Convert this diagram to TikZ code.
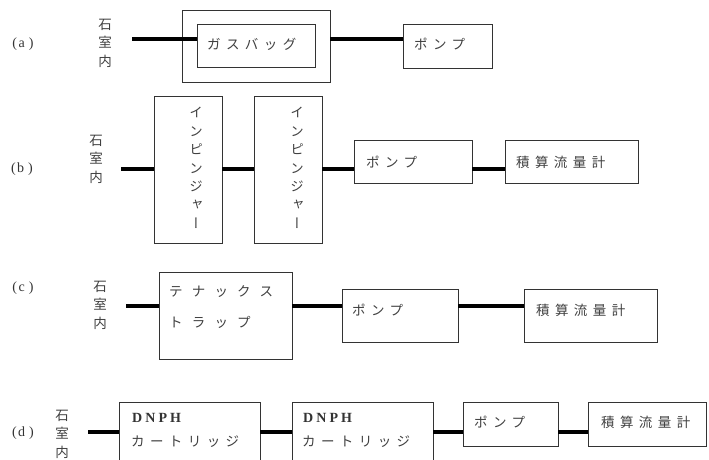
\documentclass[tikz,border=0pt]{standalone}
\usepackage{fontspec}
\setmainfont{Liberation Serif}
\newfontfamily\jp[LetterSpace=40]{Noto Sans CJK JP}
\newfontfamily\jpwide[LetterSpace=68]{Noto Sans CJK JP}
\newfontfamily\jpv[RawFeature=+vert]{Noto Sans CJK JP}
\newfontfamily\dnph[LetterSpace=22]{Liberation Serif}
\begin{document}
\begin{tikzpicture}[x=1pt,y=-1pt,
  box/.style={draw=black!80,line width=0.9pt,inner sep=0pt,fill=none},
  conn/.style={line width=3.6pt,black},
  jtext/.style={text=black!75,inner sep=0pt,anchor=west,font=\jp\fontsize{13.5}{15}\selectfont},
  jwide/.style={text=black!75,inner sep=0pt,anchor=west,font=\jpwide\fontsize{13.5}{15}\selectfont},
  dtext/.style={text=black!80,inner sep=0pt,anchor=west,font=\dnph\bfseries\fontsize{14}{16}\selectfont},
  vtext/.style={text=black!75,inner sep=0pt,align=center,font=\jpv\fontsize{13.5}{18.4}\selectfont},
  rowlabel/.style={text=black!80,inner sep=0pt,font=\fontsize{14}{16}\selectfont}]
\clip (0,0) rectangle (709,460);
\fill[white] (0,0) rectangle (709,460);

% ---------- (a)
\node[rowlabel] (labA) at (23,44) {(\hspace{1.5pt}a\hspace{4pt})};
\node[vtext] (stoneA) at (105,43) {石\\室\\内};
\coordinate (startA) at (132,39);
\node[box,minimum width=148pt,minimum height=72pt] (outerA) at (256,46) {};
\node[box,minimum width=118pt,minimum height=43pt] (innerA) at (256,45.5) {};
\node[box,minimum width=89pt,minimum height=44pt] (pumpA) at (447.5,46) {};
\node[jtext] (tGas) at (207,44) {ガスバッグ};
\node[jtext] (tPumpA) at (414,44) {ポンプ};
\draw[conn] (startA) -- (startA -| innerA.west);
\draw[conn] (outerA.east |- startA) -- (pumpA.west |- startA);

% ---------- (b)
\node[rowlabel] (labB) at (22,169) {(\hspace{1.5pt}b\hspace{4pt})};
\node[vtext] (stoneB) at (96,159) {石\\室\\内};
\coordinate (startB) at (121,169);
\node[box,minimum width=68pt,minimum height=147pt] (impB1) at (188,169.5) {};
\node[box,minimum width=68pt,minimum height=147pt] (impB2) at (288,169.5) {};
\node[box,minimum width=118pt,minimum height=43pt] (pumpB) at (413,161.5) {};
\node[box,minimum width=133pt,minimum height=43pt] (flowB) at (571.5,161.5) {};
\node[vtext] (tImpB1) at (196,168) {イ\\ン\\ピ\\ン\\ジ\\ャ\\ー};
\node[vtext] (tImpB2) at (297,168) {イ\\ン\\ピ\\ン\\ジ\\ャ\\ー};
\node[jtext] (tPumpB) at (366,162) {ポンプ};
\node[jtext] (tFlowB) at (516,162) {積算流量計};
\draw[conn] (startB) -- (startB -| impB1.west);
\draw[conn] (impB1.east |- startB) -- (impB2.west |- startB);
\draw[conn] (impB2.east |- startB) -- (pumpB.west |- startB);
\draw[conn] (pumpB.east |- startB) -- (flowB.west |- startB);

% ---------- (c)
\node[rowlabel] (labC) at (23,288) {(\hspace{1.5pt}c\hspace{4pt})};
\node[vtext] (stoneC) at (100,305) {石\\室\\内};
\coordinate (startC) at (126,306);
\node[box,minimum width=133pt,minimum height=87pt] (trapC) at (225.5,315.5) {};
\node[box,minimum width=116pt,minimum height=53pt] (pumpC) at (400,315.5) {};
\node[box,minimum width=133pt,minimum height=53pt] (flowC) at (590.5,315.5) {};
\node[jwide] (tTrap1) at (169,292) {テナックス};
\node[jwide] (tTrap2) at (169,322) {トラップ};
\node[jtext] (tPumpC) at (352,310) {ポンプ};
\node[jtext] (tFlowC) at (536,310) {積算流量計};
\draw[conn] (startC) -- (startC -| trapC.west);
\draw[conn] (trapC.east |- startC) -- (pumpC.west |- startC);
\draw[conn] (pumpC.east |- startC) -- (flowC.west |- startC);

% ---------- (d)
\node[rowlabel] (labD) at (23,433) {(\hspace{1.5pt}d\hspace{4pt})};
\node[vtext] (stoneD) at (62,434) {石\\室\\内};
\coordinate (startD) at (88,432);
\node[box,minimum width=141pt,minimum height=78pt] (cartD1) at (189.5,441) {};
\node[box,minimum width=141pt,minimum height=78pt] (cartD2) at (362.5,441) {};
\node[box,minimum width=95pt,minimum height=44pt] (pumpD) at (510.5,424) {};
\node[box,minimum width=118pt,minimum height=44pt] (flowD) at (647,424) {};
\node[dtext] (tD1a) at (132,418) {DNPH};
\node[jtext] (tD1b) at (131,442) {カートリッジ};
\node[dtext] (tD2a) at (303,418) {DNPH};
\node[jtext] (tD2b) at (302,442) {カートリッジ};
\node[jtext] (tPumpD) at (474,422) {ポンプ};
\node[jtext] (tFlowD) at (601,422) {積算流量計};
\draw[conn] (startD) -- (startD -| cartD1.west);
\draw[conn] (cartD1.east |- startD) -- (cartD2.west |- startD);
\draw[conn] (cartD2.east |- startD) -- (pumpD.west |- startD);
\draw[conn] (pumpD.east |- startD) -- (flowD.west |- startD);
\end{tikzpicture}
\end{document}
